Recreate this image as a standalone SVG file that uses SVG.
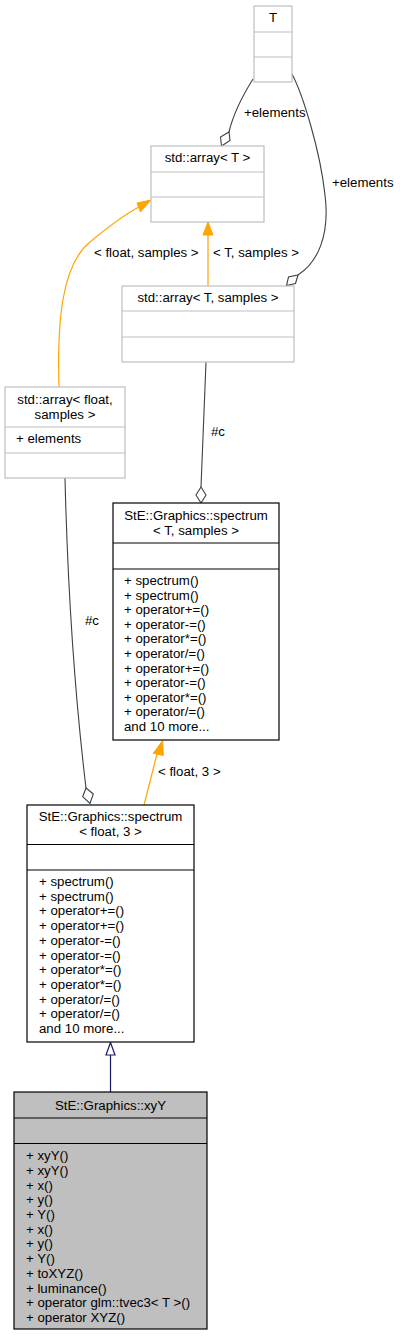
<svg xmlns="http://www.w3.org/2000/svg" width="400" height="1336" viewBox="0 0 400 1336">
<style>
text{font-family:"Liberation Sans",Arial,sans-serif;font-size:13.25px;fill:#000}
.c{text-anchor:middle}
.g{fill:#fff;stroke:#bfbfbf;stroke-width:1.2}
.k{fill:#fff;stroke:#000;stroke-width:1.2}
.s{fill:#bfbfbf;stroke:#000;stroke-width:1.2}
.gl{stroke:#bfbfbf;stroke-width:1.2}
.kl{stroke:#000;stroke-width:1.2}
.comp{fill:none;stroke:#404040;stroke-width:1.1}
.dia{fill:#fff;stroke:#404040;stroke-width:1.1}
.or{fill:none;stroke:#ffa500;stroke-width:1.2}
.orh{fill:#ffa500;stroke:#ffa500}
.bl{fill:none;stroke:#191970;stroke-width:1.2}
.blh{fill:#fff;stroke:#191970;stroke-width:1.2}
</style>
<rect width="400" height="1336" fill="#fff"/>
<g id="connectors">
<path class="comp" d="M253,79 C243,95 233,115 229,132"/>
<polygon class="dia" points="229,132 230,140.5 221.5,146 220.5,137"/>
<path class="comp" d="M292,74 C303,95 320,150 325,195 C330,235 318,262 298,275"/>
<polygon class="dia" points="298,275 295.5,283.5 286.5,285.5 288.5,277"/>
<path class="or" d="M208,286 L208,234"/>
<polygon class="orh" points="208,222 203,235 213,235"/>
<path class="or" d="M59,387 C57,320 62,265 90,242 C108,227 122,216 139,207"/>
<polygon class="orh" points="151,200 137,203 140.5,212"/>
<path class="comp" d="M206,362 L201,487"/>
<polygon class="dia" points="201,487 206,495 201,503 196,495"/>
<path class="comp" d="M65,478 C67,560 73,680 86,788"/>
<polygon class="dia" points="86,788 93.3,794 90,803.5 82.7,796.7"/>
<path class="or" d="M144,805 L157,754"/>
<polygon class="orh" points="162.7,740.5 153.3,753.3 163.3,755.5"/>
<path class="bl" d="M110.5,1092 L110.5,1055"/>
<polygon class="blh" points="110.5,1042.5 106,1055 115,1055"/>
<text x="244" y="117">+elements</text>
<text x="332" y="187">+elements</text>
<text x="94" y="257">&lt; float, samples &gt;</text>
<text x="213" y="257">&lt; T, samples &gt;</text>
<text x="211" y="436">#c</text>
<text x="85" y="625">#c</text>
<text x="158" y="776">&lt; float, 3 &gt;</text>
</g>
<g id="node_T">
<rect class="g" x="254" y="6" width="38" height="76"/>
<line class="gl" x1="254" y1="32" x2="292" y2="32"/>
<line class="gl" x1="254" y1="57" x2="292" y2="57"/>
<text class="c" x="273" y="22">T</text>
</g>
<g id="node_array_T">
<rect class="g" x="151" y="146" width="113" height="76"/>
<line class="gl" x1="151" y1="172" x2="264" y2="172"/>
<line class="gl" x1="151" y1="197" x2="264" y2="197"/>
<text class="c" x="207.5" y="162">std::array&lt; T &gt;</text>
</g>
<g id="node_array_T_samples">
<rect class="g" x="122" y="286" width="172" height="76"/>
<line class="gl" x1="122" y1="311" x2="294" y2="311"/>
<line class="gl" x1="122" y1="337" x2="294" y2="337"/>
<text class="c" x="208" y="302">std::array&lt; T, samples &gt;</text>
</g>
<g id="node_array_float_samples">
<rect class="g" x="5" y="387" width="120" height="91"/>
<line class="gl" x1="5" y1="427" x2="125" y2="427"/>
<line class="gl" x1="5" y1="453" x2="125" y2="453"/>
<text class="c" x="65" y="403.5">std::array&lt; float,</text>
<text class="c" x="65" y="418.5">samples &gt;</text>
<text x="16" y="443">+ elements</text>
</g>
<g id="node_spectrum_T_samples">
<rect class="k" x="113" y="503" width="166" height="237"/>
<line class="kl" x1="113" y1="543" x2="279" y2="543"/>
<line class="kl" x1="113" y1="569" x2="279" y2="569"/>
<text class="c" x="196" y="519.5">StE::Graphics::spectrum</text>
<text class="c" x="196" y="534.5">&lt; T, samples &gt;</text>
<text x="124" y="585">+ spectrum()</text>
<text x="124" y="599.6">+ spectrum()</text>
<text x="124" y="614.2">+ operator+=()</text>
<text x="124" y="628.8">+ operator-=()</text>
<text x="124" y="643.4">+ operator*=()</text>
<text x="124" y="658">+ operator/=()</text>
<text x="124" y="672.6">+ operator+=()</text>
<text x="124" y="687.2">+ operator-=()</text>
<text x="124" y="701.8">+ operator*=()</text>
<text x="124" y="716.4">+ operator/=()</text>
<text x="124" y="731">and 10 more...</text>
</g>
<g id="node_spectrum_float_3">
<rect class="k" x="27" y="805" width="167" height="237"/>
<line class="kl" x1="27" y1="844.5" x2="194" y2="844.5"/>
<line class="kl" x1="27" y1="870" x2="194" y2="870"/>
<text class="c" x="110.5" y="821">StE::Graphics::spectrum</text>
<text class="c" x="110.5" y="836">&lt; float, 3 &gt;</text>
<text x="39" y="886">+ spectrum()</text>
<text x="39" y="900.7">+ spectrum()</text>
<text x="39" y="915.4">+ operator+=()</text>
<text x="39" y="930.1">+ operator+=()</text>
<text x="39" y="944.8">+ operator-=()</text>
<text x="39" y="959.5">+ operator-=()</text>
<text x="39" y="974.2">+ operator*=()</text>
<text x="39" y="988.9">+ operator*=()</text>
<text x="39" y="1003.6">+ operator/=()</text>
<text x="39" y="1018.3">+ operator/=()</text>
<text x="39" y="1033">and 10 more...</text>
</g>
<g id="node_xyY">
<rect class="s" x="14" y="1092" width="193" height="237"/>
<line class="kl" x1="14" y1="1118" x2="207" y2="1118"/>
<line class="kl" x1="14" y1="1143.5" x2="207" y2="1143.5"/>
<text class="c" x="110.5" y="1109.5">StE::Graphics::xyY</text>
<text x="26" y="1160">+ xyY()</text>
<text x="26" y="1174.7">+ xyY()</text>
<text x="26" y="1189.5">+ x()</text>
<text x="26" y="1204.2">+ y()</text>
<text x="26" y="1218.9">+ Y()</text>
<text x="26" y="1233.7">+ x()</text>
<text x="26" y="1248.4">+ y()</text>
<text x="26" y="1263.1">+ Y()</text>
<text x="26" y="1277.8">+ toXYZ()</text>
<text x="26" y="1292.6">+ luminance()</text>
<text x="26" y="1307.3">+ operator glm::tvec3&lt; T &gt;()</text>
<text x="26" y="1322">+ operator XYZ()</text>
</g>
</svg>
